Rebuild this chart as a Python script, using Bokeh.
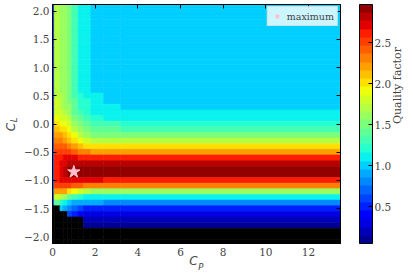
import numpy as np
from bokeh.plotting import figure
from bokeh.models import (Range1d, LinearColorMapper, ColorBar, FixedTicker, LinearAxis,
                          Legend, LegendItem, ColumnDataSource, CustomJSTickFormatter)
from bokeh.embed import file_html
from bokeh.resources import INLINE

nan = float("nan")
N = [nan]

# ---- data ----
cp_edges = [0.0, 0.08, 0.35, 0.5, 0.7, 0.9, 1.2, 1.45, 1.8, 2.4, 3.2, 13.5]
cl_centers = [round(2.1 - 0.1 * i, 2) for i in range(43)]  # 2.1 ... -2.1 (row centres)
q_top = [0.5, 1.72, 1.65, 1.58, 1.5, 1.3, 1.12, 1.1, 1.0, 1.0, 1.0]
quality = [
    q_top, q_top, q_top, q_top, q_top, q_top, q_top, q_top,          # 2.1 .. 1.4
    q_top, q_top, q_top, q_top, q_top, q_top, q_top,                 # 1.3 .. 0.7
    [0.5, 1.73, 1.66, 1.59, 1.52, 1.32, 1.14, 1.12, 1.04, 1.0, 1.0],  # 0.6
    [0.5, 1.75, 1.68, 1.61, 1.54, 1.34, 1.17, 1.15, 1.08, 1.0, 1.0],  # 0.5
    [0.5, 1.77, 1.7, 1.63, 1.56, 1.37, 1.2, 1.17, 1.1, 1.03, 1.0],    # 0.4
    [0.5, 1.8, 1.73, 1.66, 1.59, 1.4, 1.24, 1.2, 1.12, 1.07, 1.02],   # 0.3
    [0.5, 1.85, 1.78, 1.7, 1.63, 1.45, 1.3, 1.24, 1.15, 1.1, 1.07],   # 0.2
    [0.55, 1.92, 1.86, 1.78, 1.7, 1.52, 1.37, 1.3, 1.2, 1.15, 1.12],  # 0.1
    [0.55, 2.0, 1.95, 1.88, 1.8, 1.62, 1.47, 1.4, 1.3, 1.27, 1.25],   # 0.0
    [0.6, 2.1, 2.05, 1.98, 1.9, 1.74, 1.58, 1.5, 1.42, 1.38, 1.35],   # -0.1
    [0.6, 2.22, 2.17, 2.1, 2.02, 1.87, 1.72, 1.65, 1.55, 1.52, 1.5],  # -0.2
    [0.65, 2.35, 2.3, 2.23, 2.16, 2.02, 1.88, 1.8, 1.74, 1.7, 1.7],   # -0.3
    [0.65, 2.45, 2.43, 2.38, 2.33, 2.2, 2.08, 2.02, 2.0, 1.98, 1.98], # -0.4
    [0.7, 2.55, 2.54, 2.52, 2.5, 2.42, 2.35, 2.3, 2.25, 2.22, 2.2],   # -0.5
    [0.7, 2.6, 2.63, 2.67, 2.7, 2.68, 2.66, 2.65, 2.62, 2.6, 2.6],    # -0.6
    [0.7, 2.62, 2.7, 2.75, 2.84, 2.85, 2.85, 2.85, 2.85, 2.85, 2.85], # -0.7
    [0.7, 2.62, 2.72, 2.8, 2.93, 2.95, 2.93, 2.93, 2.93, 2.93, 2.93], # -0.8
    [0.7, 2.62, 2.72, 2.8, 2.92, 2.93, 2.92, 2.9, 2.9, 2.9, 2.9],     # -0.9
    [0.7, 2.6, 2.68, 2.72, 2.75, 2.74, 2.72, 2.7, 2.68, 2.65, 2.65],  # -1.0
    [0.7, 2.5, 2.55, 2.55, 2.5, 2.45, 2.4, 2.35, 2.32, 2.3, 2.3],     # -1.1
    [0.7, 2.25, 2.22, 2.18, 2.05, 1.95, 1.85, 1.75, 1.65, 1.6, 1.6],  # -1.2
    [0.65, 1.85, 1.72, 1.6, 1.42, 1.3, 1.2, 1.15, 1.12, 1.1, 1.1],    # -1.3
    [0.6, 1.4, 1.2, 1.12, 1.02, 0.95, 0.9, 0.88, 0.86, 0.85, 0.85],   # -1.4
    [nan, nan, 1.02, 0.95, 0.85, 0.72, 0.62, 0.55, 0.52, 0.5, 0.5],   # -1.5
    [nan, nan, nan, nan, 0.6, 0.5, 0.4, 0.35, 0.3, 0.3, 0.3],         # -1.6
    N * 7 + [0.2, 0.18, 0.18, 0.18],                                 # -1.7
    N * 7 + [0.12, 0.1, 0.1, 0.1],                                   # -1.8
    N * 11, N * 11, N * 11,                                          # -1.9 .. -2.1
]
max_cp = [1.0]
max_cl = [-0.85]
x_ticks = [0, 2, 4, 6, 8, 10, 12]
y_ticks = [-2.0, -1.5, -1.0, -0.5, 0.0, 0.5, 1.0, 1.5, 2.0]
cb_ticks = [0.5, 1.0, 1.5, 2.0, 2.5]
q_low, q_high, n_levels = 0.05, 2.97, 29
X0, X1, Y0, Y1 = 0.0, 13.5, -2.12, 2.12


def jet(n):
    f = (np.arange(n) + 0.5) / n
    r = np.interp(f, [0, 0.35, 0.66, 0.89, 1], [0, 0, 1, 1, 0.5])
    g = np.interp(f, [0, 0.125, 0.375, 0.64, 0.91, 1], [0, 0, 1, 1, 0, 0])
    b = np.interp(f, [0, 0.11, 0.34, 0.65, 1], [0.5, 1, 1, 0, 0])
    return ["#%02x%02x%02x" % (int(round(255 * a)), int(round(255 * c)), int(round(255 * d)))
            for a, c, d in zip(r, g, b)]


# build cells
half = abs(cl_centers[0] - cl_centers[1]) / 2
L, R, B, T, V = [], [], [], [], []
for row, yc in zip(quality, cl_centers):
    for c, v in enumerate(row):
        L.append(cp_edges[c]); R.append(cp_edges[c + 1])
        B.append(yc - half); T.append(yc + half); V.append(v)
src = ColumnDataSource(dict(left=L, right=R, bottom=B, top=T, q=np.array(V, dtype=float)))

mapper = LinearColorMapper(palette=jet(n_levels), low=q_low, high=q_high,
                           nan_color="black", low_color="black")

FW, FH = 288, 239
p = figure(frame_width=FW, frame_height=FH, output_backend="svg", toolbar_location=None,
           x_range=Range1d(X0, X1), y_range=Range1d(Y0, Y1),
           min_border_left=52, min_border_top=4, min_border_bottom=34, min_border_right=73,
           background_fill_color="white", border_fill_color="white")
p.grid.visible = False
p.outline_line_color = "black"

p.quad(left="left", right="right", bottom="bottom", top="top", source=src,
       fill_color={"field": "q", "transform": mapper},
       line_color={"field": "q", "transform": mapper}, line_width=0.6)

star = p.scatter(x=max_cp, y=max_cl, marker="star", size=13, fill_color="pink", line_color="pink")

tick_font = "DejaVu Serif"
lab_font = "DejaVu Sans"
fmt_y = CustomJSTickFormatter(code="return tick.toFixed(1).replace('-', '\u2212');")
blank = CustomJSTickFormatter(code="return '';")


def style_title(ax, text, size, standoff):
    ax.axis_label = text
    ax.axis_label_standoff = standoff
    ax.axis_label_text_font = lab_font
    ax.axis_label_text_font_style = "italic"
    ax.axis_label_text_font_size = size


for ax in (p.xaxis[0], p.yaxis[0]):
    ax.major_tick_in = 4
    ax.major_tick_out = 0
    ax.minor_tick_line_color = None
    ax.major_label_text_font = tick_font
    ax.major_label_text_font_size = "10.5px"
    ax.major_label_standoff = 4
    ax.axis_line_color = "black"
p.yaxis.major_label_standoff = 3
p.xaxis.ticker = FixedTicker(ticks=x_ticks)
p.yaxis.ticker = FixedTicker(ticks=y_ticks)
p.yaxis.formatter = fmt_y

# axis titles C_P and C_L: the main letter and its subscript, each on its own axis
style_title(p.xaxis[0], "C\u2002", "12px", -5)
style_title(p.yaxis[0], "\u2003L", "8.5px", 2)


def carrier(loc, text, size, standoff):
    ax = LinearAxis(ticker=FixedTicker(ticks=[]), formatter=blank, major_tick_in=0,
                    major_tick_out=0, minor_tick_line_color=None, major_tick_line_color=None,
                    major_label_standoff=0, axis_line_color=None)
    style_title(ax, text, size, standoff)
    p.add_layout(ax, loc)


carrier("below", "\u2003P", "8.5px", -9)
carrier("left", "C\u2002", "12px", -11)

top_ax = LinearAxis(ticker=FixedTicker(ticks=x_ticks), formatter=blank, major_tick_in=4,
                    major_tick_out=0, minor_tick_line_color=None, major_label_standoff=0,
                    axis_line_color="black")
p.add_layout(top_ax, "above")
right_ax = LinearAxis(ticker=FixedTicker(ticks=y_ticks), formatter=blank, major_tick_in=4,
                      major_tick_out=0, minor_tick_line_color=None, major_label_standoff=0,
                      axis_line_color="black", axis_label="Quality factor",
                      axis_label_standoff=57, axis_label_text_font=tick_font,
                      axis_label_text_font_style="normal", axis_label_text_font_size="11px")
try:
    right_ax.axis_label_orientation = np.pi / 2
except Exception:
    pass
p.add_layout(right_ax, "right")

cb = ColorBar(color_mapper=mapper, width=13, height=FH, padding=0, margin=0,
              location=(FW + 19, 0),
              ticker=FixedTicker(ticks=cb_ticks),
              formatter=CustomJSTickFormatter(code="return tick.toFixed(1);"),
              major_tick_in=4, major_tick_out=0, major_tick_line_color="black",
              minor_tick_line_color=None, bar_line_color="black",
              major_label_text_font=tick_font, major_label_text_font_size="10.5px",
              label_standoff=2, background_fill_alpha=0)
p.add_layout(cb)

legend = Legend(items=[LegendItem(label="maximum", renderers=[star])], location="top_right",
                margin=2, padding=3, spacing=0, label_standoff=4, glyph_width=12, glyph_height=12,
                label_text_font=tick_font, label_text_font_size="9.5px",
                border_line_color="#cccccc", background_fill_alpha=0.8)
p.add_layout(legend)

open("out.html", "w").write(file_html(p, INLINE))
